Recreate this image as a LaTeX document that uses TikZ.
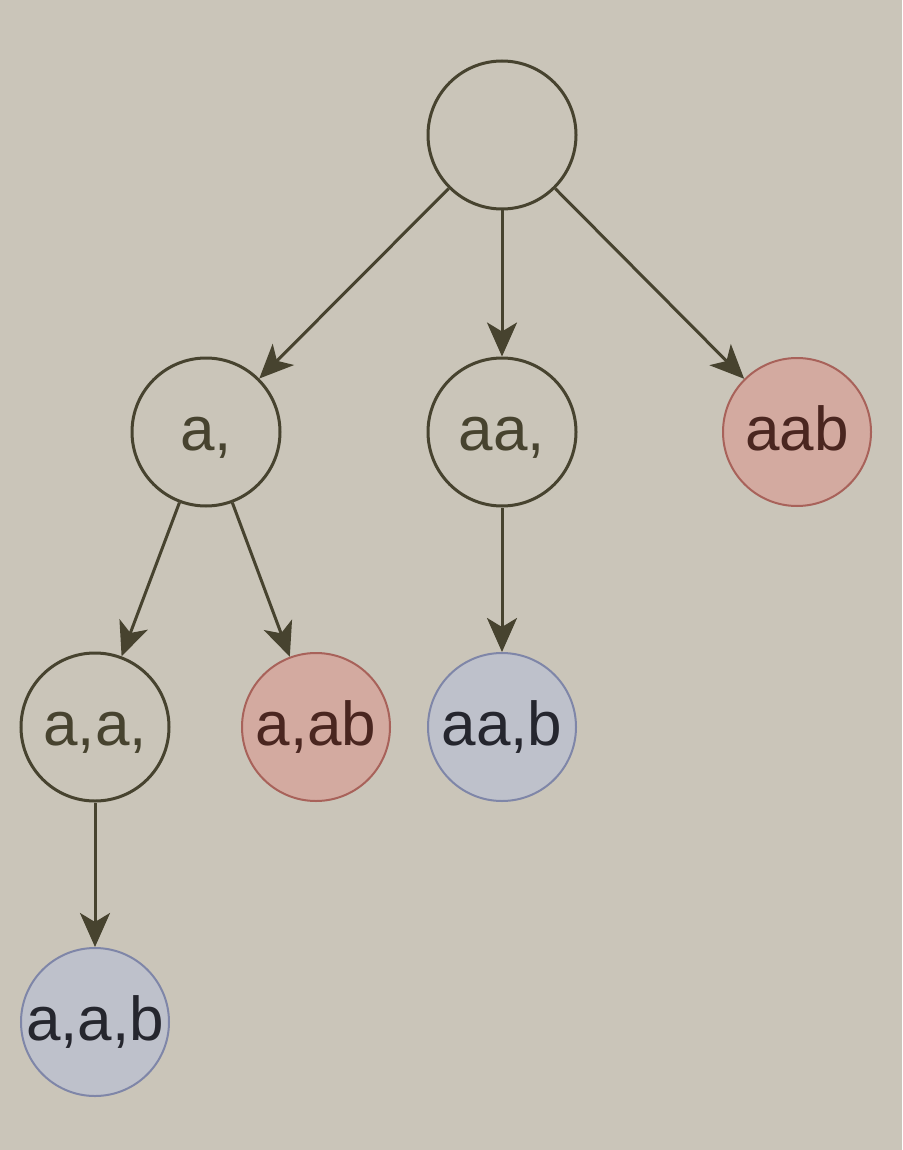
\documentclass[tikz,border=0pt]{standalone}
\usepackage{fontspec}
\setmainfont{Liberation Sans}
\usetikzlibrary{arrows.meta}
\definecolor{bg}{HTML}{CAC5B9}
\definecolor{ink}{HTML}{47432F}
\definecolor{redfill}{HTML}{D3AAA0}
\definecolor{redline}{HTML}{A8625A}
\definecolor{redtext}{HTML}{4A2620}
\definecolor{bluefill}{HTML}{BEC1CB}
\definecolor{blueline}{HTML}{7F86A8}
\definecolor{bluetext}{HTML}{25262E}
\tikzset{
  plain/.style={circle, draw=ink, line width=3pt, minimum size=148pt, inner sep=0pt,
    text=ink, font=\fontsize{62}{70}\selectfont, text height=44pt, text depth=8pt},
  redn/.style={plain, draw=redline, fill=redfill, line width=2pt, text=redtext},
  bluen/.style={plain, draw=blueline, fill=bluefill, line width=2pt, text=bluetext},
  edge/.style={draw=ink, line width=3pt, -{Stealth[length=34pt,width=30pt,inset=9pt]}}
}
\begin{document}
\begin{tikzpicture}[x=1pt,y=-1pt]
\fill[bg] (0,0) rectangle (902,1150);
\useasboundingbox (0,0) rectangle (902,1150);
\node[plain] (root) at (502,135) {};
\node[plain] (a) at (206,432) {a,};
\node[plain] (aa) at (502,432) {aa,};
\node[redn] (aab) at (797,432) {aab};
\node[plain] (aca) at (95,727) {a,a,};
\node[redn] (acab) at (316,727) {a,ab};
\node[bluen] (aacb) at (502,727) {aa,b};
\node[bluen] (acacb) at (95,1022) {a,a,b};
\draw[edge] (root) -- (a);
\draw[edge] (root) -- (aa);
\draw[edge] (root) -- (aab);
\draw[edge] (a) -- (aca);
\draw[edge] (a) -- (acab);
\draw[edge] (aa) -- (aacb);
\draw[edge] (aca) -- (acacb);
\end{tikzpicture}
\end{document}
